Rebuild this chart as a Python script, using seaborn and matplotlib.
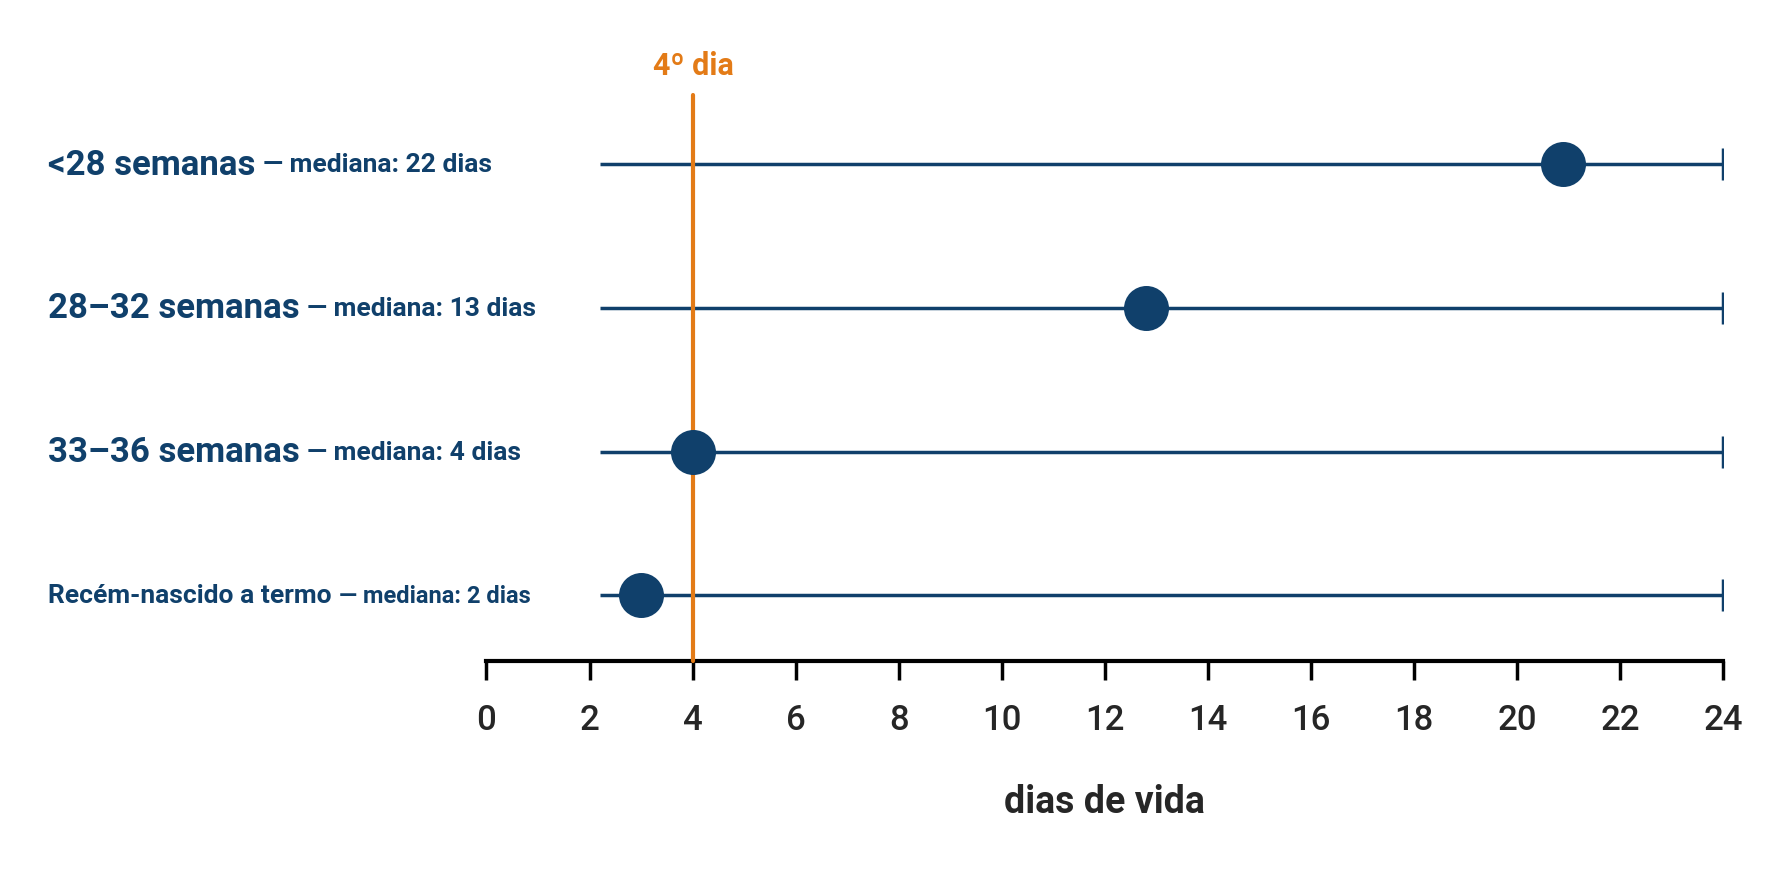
import matplotlib
matplotlib.use("Agg")
import matplotlib.pyplot as plt
import seaborn as sns
import pandas as pd

groups = ["<28 semanas", "28–32 semanas", "33–36 semanas", "Recém-nascido a termo"]
medians_txt = ["22 dias", "13 dias", "4 dias", "2 dias"]
dot_days = [20.9, 12.8, 4.0, 3.0]
line_start = [2.2, 2.2, 2.2, 2.2]
line_end = [24, 24, 24, 24]
ticks = list(range(0, 25, 2))
ref_day = 4

sns.set_theme(style="white")
plt.rcParams['font.family'] = ['Roboto', 'DejaVu Sans']
navy = "#10406b"
orange = "#e37b17"
W, H = 1568, 784

fig = plt.figure(figsize=(17.74, 8.87), dpi=100)
ax = fig.add_axes([430/W, 1-585/H, (1523-430)/W, (585-85)/H])
df = pd.DataFrame({"g": groups, "y": range(len(groups)), "d": dot_days})
ax.hlines(df["y"], line_start, line_end, color=navy, lw=2.5, zorder=2)
ax.scatter(line_end, df["y"], marker="|", s=550, color=navy, linewidths=2.5, zorder=2)
sns.scatterplot(data=df, x="d", y="y", s=900, color=navy, edgecolor=navy, ax=ax, zorder=4, legend=False)
ax.axvline(ref_day, ymin=0, ymax=1, color=orange, lw=3, zorder=3, clip_on=False)
ax.set_xlim(0, 24)
ax.set_ylim(3.457, -0.48)
ax.set_yticks([])
ax.set_xticks(ticks)
ax.set_xticklabels([str(t) for t in ticks], fontsize=25, fontweight="medium")
ax.tick_params(axis="x", direction="out", length=14, width=2.5, color="black", pad=16, bottom=True)
for s in ["top", "left", "right"]:
    ax.spines[s].set_visible(False)
ax.spines["bottom"].set_color("black")
ax.spines["bottom"].set_linewidth(3)
ax.set_xlabel("dias de vida", fontsize=27, fontweight="bold", labelpad=34)
ax.set_ylabel("")
ax.patch.set_alpha(0)
fig.text(613/W, 1-58/H, "4º dia", color=orange, fontsize=22, fontweight="bold",
         ha="center", va="center")

fig.canvas.draw()
r = fig.canvas.get_renderer()
sizes = [(25, 19), (25, 19), (25, 19), (19, 17)]
limit = ax.transData.transform((2.2, 0))[0] - 20
for i, (g, m) in enumerate(zip(groups, medians_txt)):
    ypx = ax.transData.transform((0, i))[1]
    s1, s2 = sizes[i]
    while True:
        t1 = fig.text(42/W, ypx/fig.bbox.height, g, fontsize=s1, fontweight="bold", color=navy,
                      ha="left", va="center")
        bb = t1.get_window_extent(r)
        t2 = fig.text((bb.x1 + 8)/fig.bbox.width, ypx/fig.bbox.height, "— mediana: " + m,
                      fontsize=s2, fontweight="bold", color=navy, ha="left", va="center")
        if t2.get_window_extent(r).x1 <= limit or s2 < 10:
            break
        t1.remove(); t2.remove()
        s1 *= 0.96; s2 *= 0.96
fig.savefig("out.png", dpi=100, facecolor="white")
